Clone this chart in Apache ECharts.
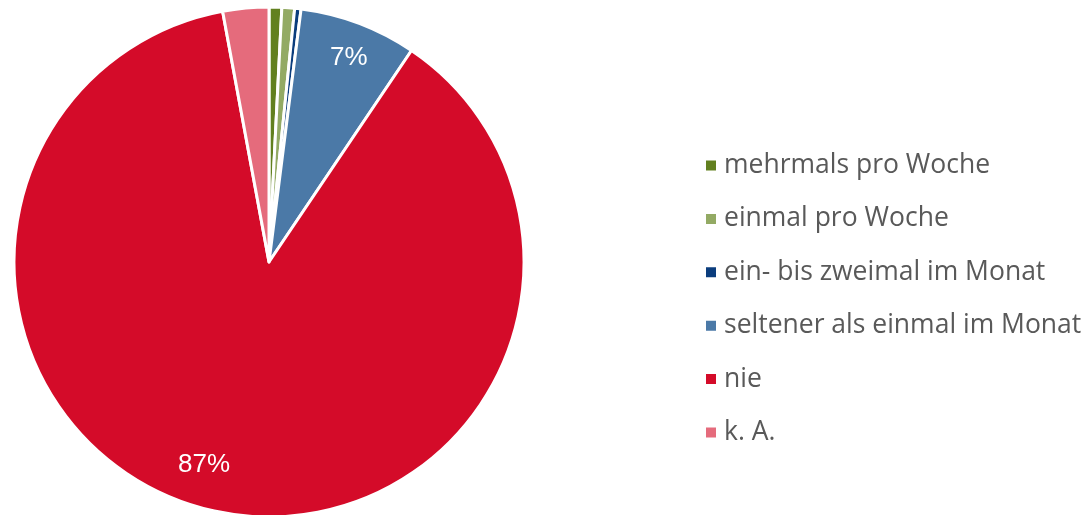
<!DOCTYPE html>
<html>
<head>
<meta charset="utf-8">
<script src="https://cdn.jsdelivr.net/npm/echarts@6/dist/echarts.min.js"></script>
<style>
  html, body { margin: 0; padding: 0; background: #fff; }
  #chart { width: 1087px; height: 515px; }
</style>
</head>
<body>
<div id="chart"></div>
<script>
  var categories = ["mehrmals pro Woche", "einmal pro Woche", "ein- bis zweimal im Monat",
    "seltener als einmal im Monat", "nie", "k. A."];
  var values = [0.8, 0.8, 0.4, 7.4, 87.3, 2.9];
  var shownLabels = ["", "", "", "7%", "87%", ""];
  var colors = ["#62801f", "#93aa64", "#0b3d7d", "#4b79a7", "#d40b29", "#e56b7c"];
  // nudges so the inside labels sit where the reference puts them
  var labelNudge = [[0, 0], [0, 0], [0, 0], [4, -2], [-21, -8], [0, 0]];

  var pieData = categories.map(function (name, i) {
    return { name: name, value: values[i], itemStyle: { color: colors[i] } };
  });
  var labelData = categories.map(function (name, i) {
    return {
      name: name, value: values[i],
      label: { show: shownLabels[i] !== "", formatter: shownLabels[i], offset: labelNudge[i] }
    };
  });

  var chart = echarts.init(document.getElementById("chart"));
  chart.setOption({
    animation: false,
    legend: {
      orient: "vertical",
      left: 699,
      top: 147,
      itemWidth: 12,
      itemHeight: 12,
      itemGap: 26.4,
      icon: "rect",
      data: categories.map(function (name, i) {
        return { name: name, itemStyle: { color: colors[i] } };
      }),
      textStyle: { fontFamily: "Open Sans", fontSize: 26.5, color: "#595959", padding: [0, 0, 0, 2] }
    },
    series: [
      {
        type: "pie",
        center: [269, 262],
        radius: [0, 255],
        startAngle: 90,
        clockwise: true,
        avoidLabelOverlap: false,
        label: { show: false },
        labelLine: { show: false },
        itemStyle: { borderColor: "#fff", borderWidth: 3 },
        emphasis: { disabled: true },
        data: pieData
      },
      {
        type: "pie",
        center: [269, 262],
        radius: [170, 255],
        startAngle: 90,
        clockwise: true,
        silent: true,
        avoidLabelOverlap: false,
        itemStyle: { color: "rgba(0,0,0,0)" },
        labelLine: { show: false },
        label: {
          position: "inside",
          color: "#fff",
          fontFamily: "Liberation Sans",
          fontSize: 26
        },
        emphasis: { disabled: true },
        data: labelData
      }
    ]
  });
</script>
</body>
</html>
